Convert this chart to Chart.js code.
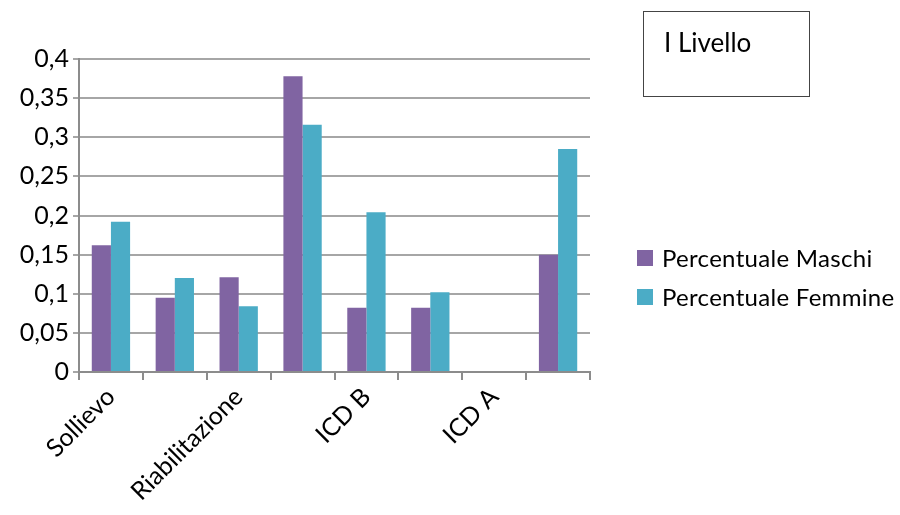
<!DOCTYPE html>
<html>
<head>
<meta charset="utf-8">
<script src="https://cdn.jsdelivr.net/npm/chart.js@4"></script>
<style>
  html, body { margin: 0; padding: 0; background: #fff; }
  #wrap { position: relative; width: 900px; height: 515px; font-family: Lato, "Liberation Sans", sans-serif; }
  #title { position: absolute; left: 643px; top: 11px; width: 167px; height: 86px; border: 1px solid #444; box-sizing: border-box; }
  #title span { position: absolute; left: 20px; top: 14px; font-size: 26px; color: #000; }
  #legend { position: absolute; left: 637px; top: 238px; font-size: 24px; color: #000; letter-spacing: 0.3px; }
  #legend div { height: 39px; display: flex; align-items: center; }
  #legend i { display: inline-block; width: 16px; height: 16px; margin-right: 9px; }
</style>
</head>
<body>
<div id="wrap">
  <canvas id="chart" width="900" height="515"></canvas>
  <div id="title"><span>I Livello</span></div>
  <div id="legend"></div>
</div>
<script>
const CATEGORIES = ["Sollievo", "", "Riabilitazione", "", "ICD B", "", "ICD A", ""];
const MASCHI = [0.162, 0.095, 0.121, 0.378, 0.082, 0.082, 0, 0.150];
const FEMMINE = [0.192, 0.120, 0.084, 0.316, 0.204, 0.102, 0, 0.285];
const Y_TICKS = [0, 0.05, 0.1, 0.15, 0.2, 0.25, 0.3, 0.35, 0.4];

const datasets = [
  { label: "Percentuale Maschi", data: MASCHI, backgroundColor: "#8064a2" },
  { label: "Percentuale Femmine", data: FEMMINE, backgroundColor: "#4bacc6" }
];

new Chart(document.getElementById("chart"), {
  type: "bar",
  data: {
    labels: CATEGORIES,
    datasets: datasets.map(d => ({ ...d, categoryPercentage: 0.6, barPercentage: 1.0 }))
  },
  options: {
    responsive: false,
    animation: false,
    layout: { padding: { top: 59, right: 310, left: 0, bottom: 0 } },
    plugins: { legend: { display: false }, tooltip: { enabled: false } },
    scales: {
      x: {
        afterFit: (s) => { s.height = 143; },
        grid: { offset: true, drawOnChartArea: false, color: "#8c8c8c", lineWidth: 2, tickLength: 8 },
        border: { color: "#8c8c8c", width: 2 },
        ticks: {
          autoSkip: false,
          minRotation: 45,
          maxRotation: 45,
          padding: 2,
          color: "#000",
          font: { family: "Lato", size: 25 }
        }
      },
      y: {
        min: 0,
        max: 0.4,
        afterFit: (s) => { s.width = 79; },
        afterBuildTicks: (s) => { s.ticks = Y_TICKS.map(v => ({ value: v })); },
        grid: { color: "#a6a6a6", lineWidth: 2, tickLength: 6 },
        border: { color: "#8c8c8c", width: 2 },
        ticks: {
          color: "#000",
          padding: 4,
          font: { family: "Lato", size: 25 },
          callback: (v) => String(v).replace(".", ",")
        }
      }
    }
  }
});

document.getElementById("legend").innerHTML = datasets.map(d =>
  `<div><i style="background:${d.backgroundColor}"></i>${d.label}</div>`
).join("");
</script>
</body>
</html>
